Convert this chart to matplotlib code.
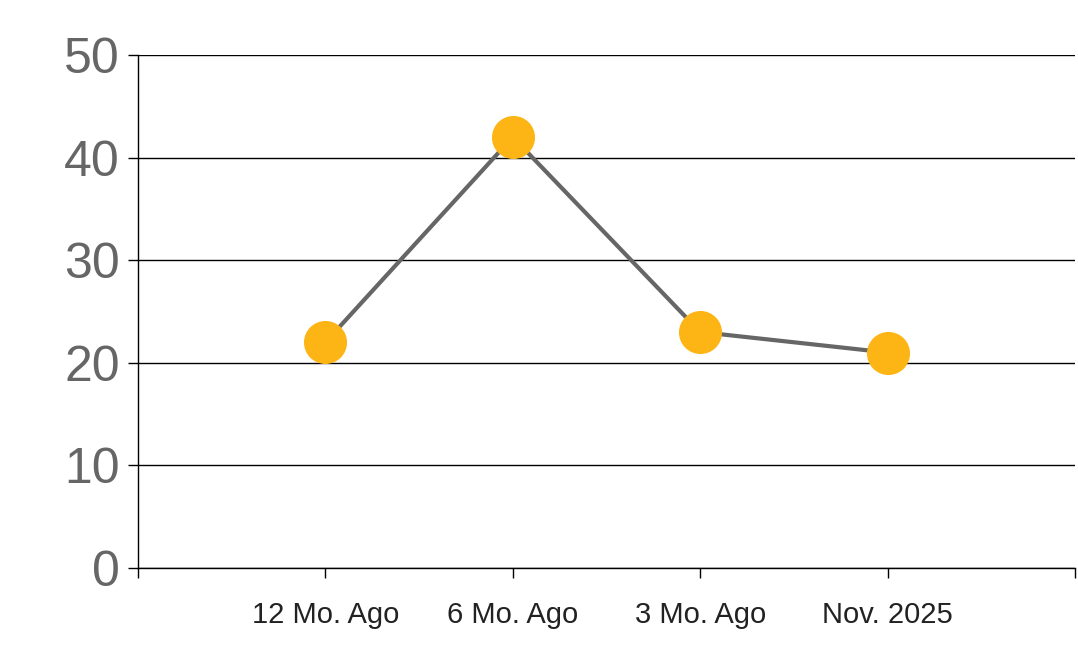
import matplotlib.pyplot as plt

plt.rcParams['font.family'] = ['Liberation Sans', 'DejaVu Sans']

categories = ['12 Mo. Ago', '6 Mo. Ago', '3 Mo. Ago', 'Nov. 2025']
values = [22, 42, 23, 21]
y_ticks = [0, 10, 20, 30, 40, 50]

fig = plt.figure(figsize=(10.78, 6.63), dpi=100)
ax = fig.add_axes([138 / 1078, 1 - 568 / 663, (1075 - 138) / 1078, (568 - 55) / 663])

x = list(range(1, len(categories) + 1))
ax.plot(x, values, color='#666666', lw=3, zorder=3)
ax.plot(x, values, 'o', ms=30, color='#FDB515', mec='#FDB515', zorder=4, clip_on=False)

ax.set_xlim(0, len(categories) + 1)
ax.set_ylim(0, 50)
ax.set_yticks(y_ticks)
ax.set_yticklabels([str(v) for v in y_ticks], fontsize=36, color='#666666',
                   va='center_baseline')
ax.set_xticks(range(0, len(categories) + 2))
ax.set_xticklabels([''] + categories + [''], fontsize=21, color='#222222')
ax.tick_params(axis='y', length=7, width=1, direction='out', pad=6)
ax.tick_params(axis='x', length=7, width=1, direction='out', pad=17)

ax.grid(axis='y', color='black', lw=1)
ax.set_axisbelow(True)
for side in ['top', 'right']:
    ax.spines[side].set_visible(False)
for side in ['left', 'bottom']:
    ax.spines[side].set_color('black')
    ax.spines[side].set_linewidth(1)

fig.savefig('out.png', dpi=100, facecolor='white')
